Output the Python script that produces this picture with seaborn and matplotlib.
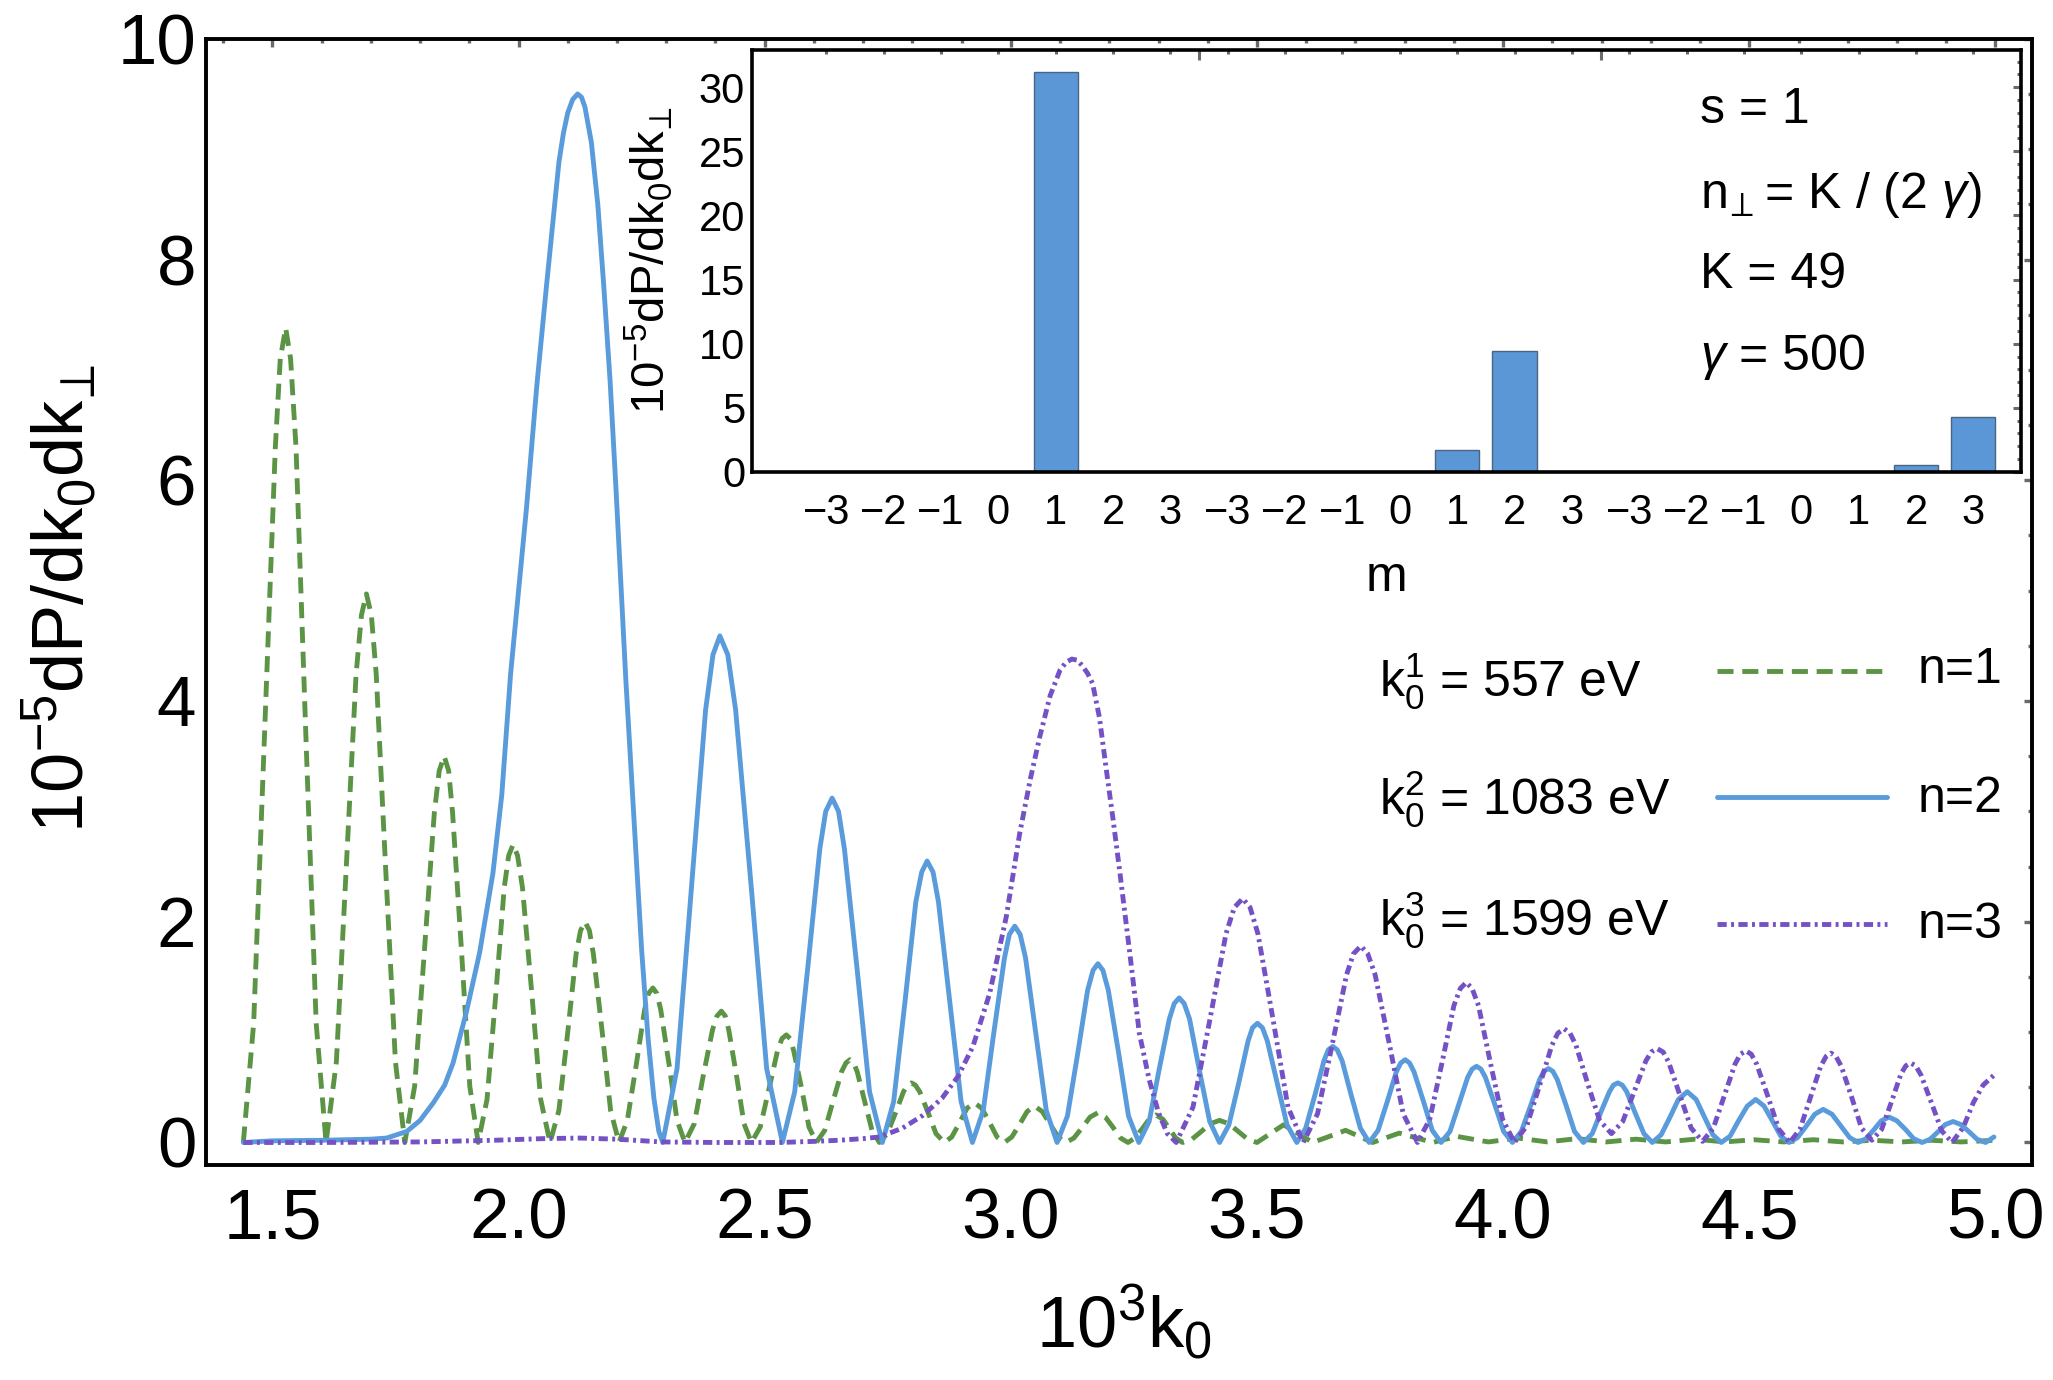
import matplotlib
matplotlib.use("Agg")
import matplotlib.pyplot as plt
import seaborn as sns
from matplotlib.ticker import MultipleLocator, FixedLocator

# ---------------- data ----------------
green_x = [1.441, 1.462, 1.484, 1.506, 1.516, 1.527, 1.537, 1.548, 1.568, 1.589,
           1.609, 1.630, 1.650, 1.670, 1.681, 1.691, 1.701, 1.711, 1.730, 1.750,
           1.769, 1.789, 1.809, 1.829, 1.839, 1.849, 1.858, 1.866, 1.884, 1.901,
           1.918, 1.936, 1.954, 1.971, 1.980, 1.989, 1.998, 2.008, 2.027, 2.045,
           2.064, 2.082, 2.100, 2.117, 2.126, 2.135, 2.144, 2.152, 2.170, 2.187,
           2.204, 2.221, 2.239, 2.256, 2.264, 2.273, 2.281, 2.289, 2.306, 2.322,
           2.338, 2.357, 2.375, 2.394, 2.403, 2.412, 2.420, 2.427, 2.443, 2.458,
           2.473, 2.491, 2.509, 2.526, 2.535, 2.544, 2.552, 2.559, 2.575, 2.590,
           2.605, 2.622, 2.639, 2.656, 2.665, 2.673, 2.681, 2.688, 2.703, 2.718,
           2.733, 2.749, 2.766, 2.782, 2.790, 2.798, 2.806, 2.815, 2.832, 2.848,
           2.865, 2.880, 2.896, 2.911, 2.926, 2.941, 2.957, 2.972,
           2.987, 3.002, 3.018, 3.033, 3.048, 3.064, 3.080, 3.096,
           3.112, 3.128, 3.145, 3.161, 3.177, 3.192, 3.208, 3.223,
           3.238, 3.252, 3.267, 3.281, 3.295, 3.309, 3.322, 3.335,
           3.349, 3.368, 3.387, 3.405, 3.424, 3.443, 3.462, 3.481,
           3.500, 3.527, 3.554, 3.584,
           3.613, 3.647, 3.680, 3.708,
           3.735, 3.762, 3.789, 3.823,
           3.857, 3.906,
           3.97, 4.03, 4.09, 4.15, 4.21, 4.27, 4.33, 4.39, 4.45,
           4.51, 4.57, 4.63, 4.69, 4.75, 4.81, 4.87, 4.93, 5.0]
green_y = [0, 1.08, 3.69, 6.30, 7.10, 7.38, 7.10, 6.30, 3.69, 1.08,
           0, 0.73, 2.49, 4.24, 4.78, 4.97, 4.78, 4.24, 2.49, 0.73,
           0, 0.51, 1.75, 2.99, 3.37, 3.50, 3.37, 2.99, 1.75, 0.51,
           0, 0.39, 1.35, 2.31, 2.60, 2.70, 2.60, 2.31, 1.35, 0.39,
           0, 0.29, 1.00, 1.71, 1.92, 2.00, 1.92, 1.71, 1.00, 0.29,
           0, 0.20, 0.70, 1.20, 1.35, 1.40, 1.35, 1.20, 0.70, 0.20,
           0, 0.17, 0.60, 1.02, 1.145, 1.19, 1.145, 1.02, 0.60, 0.17,
           0, 0.14, 0.49, 0.83, 0.94, 0.975, 0.94, 0.83, 0.49, 0.14,
           0, 0.11, 0.375, 0.64, 0.72, 0.75, 0.72, 0.64, 0.375, 0.11,
           0, 0.08, 0.27, 0.46, 0.52, 0.54, 0.52, 0.46, 0.27, 0.08,
           0, 0.05, 0.18, 0.31, 0.36, 0.31, 0.18, 0.05,
           0, 0.05, 0.165, 0.28, 0.33, 0.28, 0.165, 0.05,
           0, 0.04, 0.135, 0.23, 0.27, 0.23, 0.135, 0.04,
           0, 0.04, 0.125, 0.21, 0.25, 0.21, 0.125, 0.04,
           0, 0.03, 0.10, 0.17, 0.20, 0.17, 0.10, 0.03,
           0, 0.08, 0.16, 0.08,
           0, 0.055, 0.11, 0.055,
           0, 0.043, 0.085, 0.043,
           0, 0.055,
           0.005, 0.04, 0.005, 0.035, 0.005, 0.03, 0.005, 0.03, 0.005,
           0.025, 0.005, 0.025, 0.005, 0.02, 0.005, 0.02, 0.005, 0.02]

blue_x = [1.441, 1.50, 1.60, 1.70, 1.732, 1.773, 1.80, 1.827, 1.850, 1.867,
          1.894, 1.921, 1.948, 1.966, 1.984, 2.000, 2.016, 2.037, 2.057, 2.082,
          2.091, 2.100, 2.110, 2.120, 2.128, 2.135, 2.148, 2.161, 2.173, 2.186,
          2.198, 2.218, 2.235, 2.250, 2.263, 2.275, 2.285, 2.293,
          2.322, 2.351, 2.380, 2.395, 2.409, 2.425, 2.441, 2.473, 2.504, 2.536,
          2.561, 2.587, 2.612, 2.624, 2.637, 2.650, 2.662, 2.688, 2.713, 2.739,
          2.762, 2.785, 2.807, 2.819, 2.830, 2.842, 2.853, 2.876, 2.899, 2.922,
          2.944, 2.965, 2.987, 2.997, 3.008, 3.019, 3.030, 3.051, 3.072, 3.094,
          3.115, 3.136, 3.156, 3.167, 3.177, 3.187, 3.198, 3.219, 3.239, 3.260,
          3.281, 3.301, 3.322, 3.332, 3.342, 3.352, 3.363, 3.383, 3.404, 3.424,
          3.443, 3.463, 3.482, 3.491, 3.501, 3.511, 3.521, 3.541, 3.561, 3.581,
          3.599, 3.618, 3.636, 3.645, 3.654, 3.663, 3.673, 3.691, 3.710, 3.728,
          3.746, 3.765, 3.783, 3.792, 3.801, 3.810, 3.819, 3.838, 3.856, 3.874,
          3.892, 3.910, 3.928, 3.937, 3.946, 3.955, 3.964, 3.983, 4.001, 4.019,
          4.037, 4.056, 4.074, 4.083, 4.092, 4.101, 4.110, 4.128, 4.145, 4.163,
          4.181, 4.198, 4.216, 4.224, 4.233, 4.242, 4.251, 4.268, 4.286, 4.303,
          4.321, 4.339, 4.356, 4.374, 4.392, 4.409, 4.426, 4.443,
          4.461, 4.478, 4.496, 4.513, 4.530, 4.547, 4.564, 4.581,
          4.598, 4.616, 4.633, 4.650, 4.668, 4.686, 4.704, 4.721,
          4.737, 4.753, 4.768, 4.784, 4.800, 4.818, 4.834, 4.851,
          4.867, 4.883, 4.898, 4.914, 4.930, 4.947, 4.963, 4.980,
          4.997]
blue_y = [0.0, 0.015, 0.02, 0.03, 0.04, 0.10, 0.20, 0.36, 0.52, 0.72,
          1.18, 1.72, 2.44, 3.15, 4.25, 5.00, 5.74, 6.85, 7.77, 8.88,
          9.14, 9.33, 9.45, 9.50, 9.47, 9.38, 9.06, 8.50, 7.77, 6.90,
          5.92, 4.19, 2.90, 1.75, 0.95, 0.40, 0.10, 0,
          0.67, 2.30, 3.92, 4.42, 4.59, 4.42, 3.92, 2.30, 0.67, 0,
          0.46, 1.56, 2.66, 3.00, 3.12, 3.00, 2.66, 1.56, 0.46, 0,
          0.37, 1.275, 2.18, 2.45, 2.55, 2.45, 2.18, 1.275, 0.37, 0,
          0.29, 0.98, 1.67, 1.885, 1.96, 1.885, 1.67, 0.98, 0.29, 0,
          0.24, 0.81, 1.38, 1.56, 1.62, 1.56, 1.38, 0.81, 0.24, 0,
          0.19, 0.655, 1.12, 1.26, 1.31, 1.26, 1.12, 0.655, 0.19, 0,
          0.16, 0.54, 0.92, 1.04, 1.08, 1.04, 0.92, 0.54, 0.16, 0,
          0.13, 0.435, 0.74, 0.84, 0.87, 0.84, 0.74, 0.435, 0.13, 0,
          0.11, 0.375, 0.64, 0.72, 0.75, 0.72, 0.64, 0.375, 0.11, 0,
          0.10, 0.345, 0.59, 0.665, 0.69, 0.665, 0.59, 0.345, 0.10, 0,
          0.10, 0.335, 0.57, 0.645, 0.67, 0.645, 0.57, 0.335, 0.10, 0,
          0.08, 0.27, 0.46, 0.52, 0.54, 0.52, 0.46, 0.27, 0.08, 0,
          0.07, 0.23, 0.39, 0.46, 0.39, 0.23, 0.07, 0,
          0.057, 0.195, 0.33, 0.39, 0.33, 0.195, 0.057, 0,
          0.044, 0.15, 0.256, 0.30, 0.256, 0.15, 0.044, 0,
          0.034, 0.115, 0.196, 0.23, 0.196, 0.115, 0.034, 0,
          0.028, 0.095, 0.162, 0.19, 0.162, 0.095, 0.028, 0,
          0.05]

purple_x = [1.441, 1.60, 1.80, 1.95, 2.05, 2.125, 2.20, 2.29, 2.40, 2.53,
            2.60, 2.65, 2.70, 2.733, 2.78, 2.821, 2.86, 2.893, 2.923, 2.957,
            2.991, 3.018, 3.040, 3.059, 3.080, 3.100, 3.112, 3.124, 3.135, 3.145,
            3.156, 3.166, 3.180, 3.193, 3.207, 3.220, 3.241, 3.261, 3.281, 3.300,
            3.318, 3.336,
            3.370, 3.404, 3.437, 3.454, 3.471, 3.486, 3.502, 3.533, 3.563, 3.594,
            3.623, 3.653, 3.682, 3.696, 3.711, 3.725, 3.740, 3.769, 3.797, 3.826,
            3.851, 3.876, 3.900, 3.913, 3.925, 3.937, 3.950, 3.974, 3.999, 4.023,
            4.048, 4.074, 4.099, 4.111, 4.124, 4.136, 4.148, 4.172, 4.196, 4.220,
            4.243, 4.267, 4.290, 4.301, 4.313, 4.325, 4.336, 4.359, 4.382, 4.405,
            4.427, 4.449, 4.471, 4.482, 4.493, 4.504, 4.515, 4.538, 4.560, 4.582,
            4.603, 4.624, 4.645, 4.656, 4.666, 4.676, 4.687, 4.708, 4.728, 4.749,
            4.769, 4.789, 4.808, 4.818, 4.828, 4.838, 4.849, 4.870, 4.891, 4.912,
            4.935, 4.955, 4.975, 4.997]
purple_y = [0.0, 0.0, 0.005, 0.02, 0.035, 0.04, 0.03, 0.005, 0.0, 0.0,
            0.01, 0.02, 0.035, 0.05, 0.13, 0.245, 0.40, 0.60, 0.87, 1.35,
            2.05, 2.80, 3.30, 3.68, 4.05, 4.28, 4.35, 4.38, 4.37, 4.32,
            4.25, 4.16, 3.85, 3.41, 2.95, 2.50, 1.74, 0.99, 0.57, 0.27,
            0.08, 0,
            0.32, 1.105, 1.89, 2.13, 2.21, 2.13, 1.89, 1.105, 0.32, 0,
            0.26, 0.89, 1.52, 1.71, 1.78, 1.71, 1.52, 0.89, 0.26, 0,
            0.21, 0.725, 1.24, 1.395, 1.45, 1.395, 1.24, 0.725, 0.21, 0,
            0.15, 0.515, 0.88, 0.99, 1.03, 0.99, 0.88, 0.53, 0.20, 0.08,
            0.19, 0.47, 0.74, 0.82, 0.85, 0.82, 0.73, 0.43, 0.13, 0.01,
            0.13, 0.42, 0.71, 0.80, 0.83, 0.80, 0.71, 0.415, 0.12, 0,
            0.12, 0.405, 0.69, 0.78, 0.81, 0.78, 0.69, 0.41, 0.13, 0.02,
            0.12, 0.37, 0.62, 0.695, 0.72, 0.695, 0.61, 0.36, 0.105, 0,
            0.14, 0.36, 0.52, 0.61]

# inset bar chart: three groups (n = 1, 2, 3) of m = -3..3
m_values = [-3, -2, -1, 0, 1, 2, 3]
bar_index = list(range(21))
bar_values = [0, 0, 0, 0, 31.2, 0, 0,
              0, 0, 0, 0, 1.7, 9.4, 0,
              0, 0, 0, 0, 0, 0.57, 4.3]

x_ticks = [1.5, 2.0, 2.5, 3.0, 3.5, 4.0, 4.5, 5.0]
y_ticks = [0, 2, 4, 6, 8, 10]

legend_k = [r"$\mathrm{k}_0^1$ = 557 eV", r"$\mathrm{k}_0^2$ = 1083 eV",
            r"$\mathrm{k}_0^3$ = 1599 eV"]
legend_n = ["n=1", "n=2", "n=3"]
inset_text = ["s = 1", r"$\mathrm{n}_{\!\perp\!\!}$ = K / (2 $\gamma$)", "K = 49",
              r"$\gamma$ = 500"]
ylabel_text = r"$10^{-5}\mathrm{dP/dk_0dk_{\!\perp}}$"

# ---------------- style ----------------
sns.set_style("white")
plt.rcParams['font.family'] = ['Liberation Sans', 'DejaVu Sans']
plt.rcParams['mathtext.fontset'] = 'custom'
plt.rcParams['mathtext.rm'] = 'Liberation Sans'
plt.rcParams['mathtext.it'] = 'Liberation Sans:italic'
plt.rcParams['mathtext.bf'] = 'Liberation Sans:bold'
plt.rcParams['mathtext.sf'] = 'Liberation Sans'
plt.rcParams['mathtext.fallback'] = 'stixsans'
plt.rcParams['axes.unicode_minus'] = True
plt.rcParams['text.color'] = 'black'
plt.rcParams['axes.labelcolor'] = 'black'
plt.rcParams['xtick.labelcolor'] = 'black'
plt.rcParams['ytick.labelcolor'] = 'black'

GREEN = "#5b9444"
BLUE = "#5a9bdc"
PURPLE = "#7452c6"
BAR = "#5b96d6"
TICK = "#6a6a6a"
LW = 3.5
DASH_G = (0, (3.3, 1.8))
DASH_P = (0, (1.9, 0.9, 0.6, 0.9))
JOIN = dict(solid_joinstyle='round', dash_joinstyle='round')

fig = plt.figure(figsize=(20.53, 13.80), dpi=100)
ax = fig.add_axes([0.1003, 0.1558, 0.8894, 0.8161])

sns.lineplot(x=green_x, y=green_y, ax=ax, color=GREEN, lw=LW, linestyle=DASH_G,
             sort=False, estimator=None, **JOIN)
sns.lineplot(x=blue_x, y=blue_y, ax=ax, color=BLUE, lw=LW,
             sort=False, estimator=None, **JOIN)
sns.lineplot(x=purple_x, y=purple_y, ax=ax, color=PURPLE, lw=LW, linestyle=DASH_P,
             sort=False, estimator=None, **JOIN)

ax.set_xlim(1.365, 5.074)
ax.set_ylim(-0.204, 10.0)
ax.set_xticks(x_ticks)
ax.set_xticklabels([f"{v:.1f}" for v in x_ticks])
ax.set_yticks(y_ticks)
ax.set_yticklabels([str(v) for v in y_ticks])
ax.xaxis.set_minor_locator(MultipleLocator(0.1))
ax.yaxis.set_minor_locator(MultipleLocator(0.5))
ax.tick_params(which='both', direction='in', top=True, right=True,
               color=TICK, width=2.4, labelcolor='black')
ax.tick_params(which='major', length=5.5)
ax.tick_params(which='minor', length=3.2)
ax.tick_params(axis='x', which='major', labelsize=51, pad=16)
ax.tick_params(axis='y', which='major', labelsize=51, pad=7)
for s in ax.spines.values():
    s.set_color("black")
    s.set_linewidth(2.8)

ax.set_xlabel(r"$10^3\mathrm{k}_0$", fontsize=52)
ax.set_ylabel(ylabel_text, fontsize=52)
ax.xaxis.set_label_coords(0.503, -0.140)
ax.yaxis.set_label_coords(-0.080, 0.503)
for lab in (ax.xaxis.label, ax.yaxis.label):
    lab.set_va('center')
    lab.set_ha('center')

# legend (manual grid layout as in the reference)
row_line_y = [0.4386, 0.3268, 0.2140]
row_k_y = [0.4156, 0.3108, 0.2042]
row_n_y = [0.4280, 0.3134, 0.2016]
styles = [dict(color=GREEN, linestyle=DASH_G), dict(color=BLUE, linestyle='-'),
          dict(color=PURPLE, linestyle=DASH_P)]
for i in range(3):
    ax.plot([0.8275, 0.9206], [row_line_y[i]] * 2, transform=ax.transAxes,
            lw=LW, **styles[i])
    ax.text(0.6424, row_k_y[i], legend_k[i], transform=ax.transAxes,
            fontsize=36, ha='left', va='baseline')
    ax.text(0.9376, row_n_y[i], legend_n[i], transform=ax.transAxes,
            fontsize=36, ha='left', va='baseline')

# ---------------- inset ----------------
ax2 = fig.add_axes([0.3663, 0.6580, 0.6181, 0.3058])
ax2.set_facecolor("white")
sns.barplot(x=bar_index, y=bar_values, ax=ax2, color=BAR, saturation=1,
            width=0.77, edgecolor="#4a6482", linewidth=1.0, errorbar=None)
ax2.set_xlim(-1.294, 20.83)
ax2.set_ylim(0, 32.9)
ax2.set_xticks(bar_index)
ax2.set_xticklabels([(str(m).replace("-", "\u2212")) for m in m_values * 3])
ax2.xaxis.set_minor_locator(FixedLocator([6.5, 13.5]))
ax2.yaxis.set_major_locator(MultipleLocator(5))
ax2.yaxis.set_minor_locator(MultipleLocator(1))
ax2.tick_params(which='both', direction='in', top=True, right=True,
                color=TICK, width=2.2, labelcolor='black')
ax2.tick_params(axis='x', which='major', length=3, labelsize=30, pad=15)
ax2.tick_params(axis='x', which='minor', length=7)
ax2.tick_params(axis='y', which='major', length=5.5, labelsize=30, pad=5)
ax2.tick_params(axis='y', which='minor', length=3)
for s in ax2.spines.values():
    s.set_color("black")
    s.set_linewidth(2.6)
ax2.set_xlabel("m", fontsize=36)
ax2.set_ylabel(ylabel_text, fontsize=34)
ax2.xaxis.set_label_coords(0.5, -0.251)
ax2.yaxis.set_label_coords(-0.0812, 0.502)
for lab in (ax2.xaxis.label, ax2.yaxis.label):
    lab.set_va('center')
    lab.set_ha('center')

inset_y = [0.8275, 0.6265, 0.436, 0.2427]
for t, yy in zip(inset_text, inset_y):
    ax2.text(0.747, yy, t, transform=ax2.transAxes, fontsize=36,
             ha='left', va='baseline')

fig.savefig("out.png", dpi=100)
